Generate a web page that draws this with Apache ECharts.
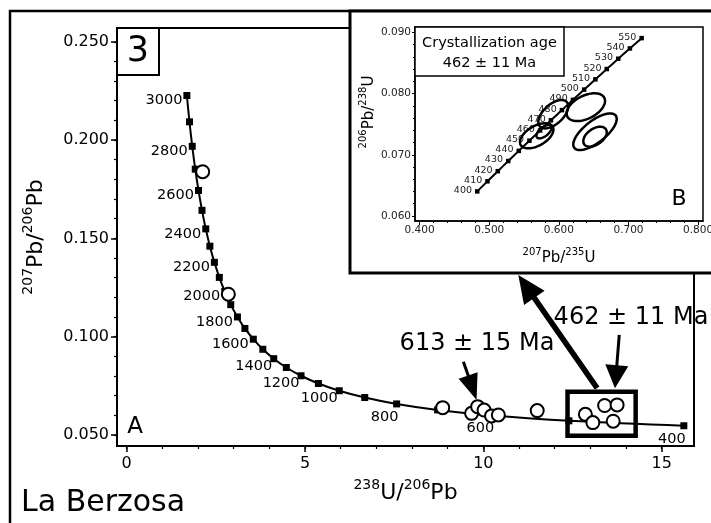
<!DOCTYPE html>
<html>
<head>
<meta charset="utf-8">
<script src="https://cdn.jsdelivr.net/npm/echarts@6/dist/echarts.min.js"></script>
<style>
  html, body { margin: 0; padding: 0; background: #fff; }
  #chart { width: 711px; height: 523px; }
</style>
</head>
<body>
<div id="chart"></div>
<script>
// ---- Tera-Wasserburg concordia (panel A), one marker every 100 Ma ----
const concordiaAges = [400, 500, 600, 700, 800, 900, 1000, 1100, 1200, 1300, 1400, 1500, 1600, 1700,
  1800, 1900, 2000, 2100, 2200, 2300, 2400, 2500, 2600, 2700, 2800, 2900, 3000];
const concordiaU238Pb206 = [15.621, 12.399, 10.252, 8.718, 7.568, 6.674, 5.959, 5.375, 4.888, 4.476,
  4.123, 3.817, 3.550, 3.314, 3.105, 2.917, 2.749, 2.597, 2.459, 2.332, 2.217, 2.111, 2.013, 1.922,
  1.838, 1.760, 1.687];
const concordiaPb207Pb206 = [0.05470, 0.05722, 0.05990, 0.06276, 0.06580, 0.06904, 0.07250, 0.07619,
  0.08012, 0.08432, 0.08881, 0.09360, 0.09872, 0.10419, 0.11004, 0.11629, 0.12299, 0.13015, 0.13782,
  0.14603, 0.15483, 0.16426, 0.17437, 0.18520, 0.19682, 0.20928, 0.22266];
const concordiaLabelled = [400, 600, 800, 1000, 1200, 1400, 1600, 1800, 2000, 2200, 2400, 2600, 2800, 3000];

// ---- Zircon analyses (panel A) ----
const zirconU238Pb206 = [2.13, 2.85, 8.86, 9.67, 9.84, 10.02, 10.23, 10.42, 11.51, 12.86, 13.07, 13.40, 13.75, 13.64];
const zirconPb207Pb206 = [0.1839, 0.1216, 0.0639, 0.0610, 0.0644, 0.0627, 0.0597, 0.0602, 0.0624, 0.0605, 0.0563, 0.0650, 0.0653, 0.0570];

// Youngest group, framed and enlarged in panel B
const groupBoxX = [12.36, 14.27];
const groupBoxY = [0.0496, 0.0720];

// Pointer arrows in panel A: start and tip
const arrowFromX = [13.19, 9.44, 13.81];
const arrowFromY = [0.0738, 0.0873, 0.1009];
const arrowToX = [10.98, 9.81, 13.69];
const arrowToY = [0.1314, 0.0678, 0.0738];

// ---- Wetherill concordia (panel B), one marker every 10 Ma ----
const insetAges = [400, 410, 420, 430, 440, 450, 460, 470, 480, 490, 500, 510, 520, 530, 540, 550];
const insetPb207U235 = [0.4828, 0.4975, 0.5123, 0.5273, 0.5424, 0.5577, 0.5731, 0.5886, 0.6044, 0.6202,
  0.6363, 0.6525, 0.6688, 0.6853, 0.7020, 0.7189];
const insetPb206U238 = [0.06402, 0.06567, 0.06732, 0.06898, 0.07064, 0.07230, 0.07397, 0.07563, 0.07730,
  0.07898, 0.08065, 0.08233, 0.08401, 0.08569, 0.08738, 0.08906];

// Error ellipses: centre, half-widths and error correlation
const ellipseCx = [0.5682, 0.5786, 0.5920, 0.6387, 0.6519, 0.6519];
const ellipseCy = [0.07310, 0.07377, 0.07663, 0.07778, 0.07377, 0.07296];
const ellipseSx = [0.0240, 0.0108, 0.0215, 0.0276, 0.0312, 0.0168];
const ellipseSy = [0.00205, 0.00109, 0.00232, 0.00227, 0.00299, 0.00163];
const ellipseRho = [0.50, 0.60, 0.55, 0.45, 0.70, 0.45];

// ---- Tick values ----
const mainXTicks = [0, 5, 10, 15];
const mainXMinor = [0, 1, 2, 3, 4, 5, 6, 7, 8, 9, 10, 11, 12, 13, 14, 15];
const mainYTicks = [0.05, 0.10, 0.15, 0.20, 0.25];
const mainYMinor = [0.05, 0.06, 0.07, 0.08, 0.09, 0.10, 0.11, 0.12, 0.13, 0.14, 0.15, 0.16, 0.17, 0.18,
  0.19, 0.20, 0.21, 0.22, 0.23, 0.24, 0.25];
const insetXTicks = [0.4, 0.5, 0.6, 0.7, 0.8];
const insetXMinor = [0.40, 0.42, 0.44, 0.46, 0.48, 0.50, 0.52, 0.54, 0.56, 0.58, 0.60, 0.62, 0.64, 0.66,
  0.68, 0.70, 0.72, 0.74, 0.76, 0.78, 0.80];
const insetYTicks = [0.06, 0.07, 0.08, 0.09];
const insetYMinor = [0.060, 0.062, 0.064, 0.066, 0.068, 0.070, 0.072, 0.074, 0.076, 0.078, 0.080, 0.082,
  0.084, 0.086, 0.088, 0.090];

const FONT = 'DejaVu Sans';
const chart = echarts.init(document.getElementById('chart'), null, { renderer: 'canvas' });

function richName(big, small) {
  return {
    base: { fontSize: big, fontFamily: FONT, color: '#000', lineHeight: big + 4, verticalAlign: 'bottom' },
    sup: { fontSize: small, fontFamily: FONT, color: '#000', lineHeight: small, verticalAlign: 'top' }
  };
}

function valueAxis(opt) {
  return Object.assign({
    type: 'value', scale: true,
    splitLine: { show: false },
    axisPointer: { show: false }
  }, opt);
}

const mainSeriesData = concordiaAges.map((age, i) => {
  const item = { name: String(age), value: [concordiaU238Pb206[i], concordiaPb207Pb206[i]] };
  if (concordiaLabelled.includes(age)) {
    if (age <= 800) item.label = { show: true, position: 'bottom', distance: 2, offset: [-12, 0] };
    else if (age <= 1400) item.label = { show: true, position: 'left', distance: 0, offset: [2, 7.5] };
    else item.label = { show: true, position: 'left', distance: 1, offset: [0, 5] };
  } else {
    item.label = { show: false };
  }
  return item;
});

const insetSeriesData = insetAges.map((age, i) => ({
  name: String(age), value: [insetPb207U235[i], insetPb206U238[i]]
}));

const option = {
  animation: false,
  textStyle: { fontFamily: FONT },
  grid: [
    { left: 117, top: 28, width: 577, height: 418, show: true, borderColor: '#000', borderWidth: 2,
      backgroundColor: 'transparent', containLabel: false, outerBoundsMode: 'none' },
    { left: 415, top: 27, width: 288, height: 194, show: true, borderColor: '#000', borderWidth: 1.5,
      backgroundColor: '#fff', z: 4, containLabel: false, outerBoundsMode: 'none' }
  ],
  xAxis: [
    valueAxis({
      gridIndex: 0, min: -0.272, max: 15.906, position: 'bottom',
      axisLine: { show: true, onZero: false, lineStyle: { color: '#000', width: 2 } },
      axisTick: { show: true, customValues: mainXTicks, length: 6, lineStyle: { color: '#000', width: 1.5 } },
      axisLabel: { customValues: mainXTicks, fontSize: 16, color: '#000', margin: 10 },
      name: '{sup|238}{base|U/}{sup|206}{base|Pb}', nameLocation: 'middle', nameGap: 32,
      nameTextStyle: { rich: richName(22, 14) }
    }),
    valueAxis({
      gridIndex: 0, min: -0.272, max: 15.906, position: 'bottom',
      axisLine: { show: false, onZero: false },
      axisTick: { show: true, customValues: mainXMinor, length: 3, lineStyle: { color: '#000', width: 1.2 } },
      axisLabel: { show: false }
    }),
    valueAxis({
      gridIndex: 1, min: 0.3934, max: 0.8070, position: 'bottom', z: 4,
      axisLine: { show: true, onZero: false, lineStyle: { color: '#000', width: 1.5 } },
      axisTick: { show: true, customValues: insetXTicks, length: 4, lineStyle: { color: '#000', width: 1 } },
      axisLabel: { customValues: insetXTicks, fontSize: 10.5, color: '#222', margin: 4,
        formatter: v => v.toFixed(3) },
      name: '{sup|207}{base|Pb/}{sup|235}{base|U}', nameLocation: 'middle', nameGap: 26,
      nameTextStyle: { rich: richName(15, 10) }
    }),
    valueAxis({
      gridIndex: 1, min: 0.3934, max: 0.8070, position: 'bottom', z: 4,
      axisLine: { show: false, onZero: false },
      axisTick: { show: true, customValues: insetXMinor, length: 2, lineStyle: { color: '#000', width: 1 } },
      axisLabel: { show: false }
    })
  ],
  yAxis: [
    valueAxis({
      gridIndex: 0, min: 0.0444, max: 0.2570, position: 'left',
      axisLine: { show: true, onZero: false, lineStyle: { color: '#000', width: 2 } },
      axisTick: { show: true, customValues: mainYTicks, length: 6, lineStyle: { color: '#000', width: 1.5 } },
      axisLabel: { customValues: mainYTicks, fontSize: 16, color: '#000', margin: 8,
        formatter: v => v.toFixed(3) },
      name: '{sup|207}{base|Pb/}{sup|206}{base|Pb}', nameLocation: 'middle', nameGap: 70, nameRotate: 90,
      nameTextStyle: { rich: richName(22, 14) }
    }),
    valueAxis({
      gridIndex: 0, min: 0.0444, max: 0.2570, position: 'left',
      axisLine: { show: false, onZero: false },
      axisTick: { show: true, customValues: mainYMinor, length: 3, lineStyle: { color: '#000', width: 1.2 } },
      axisLabel: { show: false }
    }),
    valueAxis({
      gridIndex: 1, min: 0.05918, max: 0.09088, position: 'left', z: 4,
      axisLine: { show: true, onZero: false, lineStyle: { color: '#000', width: 1.5 } },
      axisTick: { show: true, customValues: insetYTicks, length: 3, lineStyle: { color: '#000', width: 1 } },
      axisLabel: { customValues: insetYTicks, fontSize: 10.5, color: '#222', margin: 4,
        formatter: v => v.toFixed(3) },
      name: '{sup|206}{base|Pb/}{sup|238}{base|U}', nameLocation: 'middle', nameGap: 38, nameRotate: 90,
      nameTextStyle: { rich: richName(15, 10), padding: [0, 0, 0, 24] }
    }),
    valueAxis({
      gridIndex: 1, min: 0.05918, max: 0.09088, position: 'left', z: 4,
      axisLine: { show: false, onZero: false },
      axisTick: { show: true, customValues: insetYMinor, length: 2, lineStyle: { color: '#000', width: 1 } },
      axisLabel: { show: false }
    })
  ],
  series: [
    {
      name: 'concordia', type: 'line', xAxisIndex: 0, yAxisIndex: 0, z: 2,
      data: mainSeriesData, smooth: 0.4,
      symbol: 'rect', symbolSize: 7, showAllSymbol: true,
      lineStyle: { color: '#000', width: 2 },
      itemStyle: { color: '#000' },
      label: { show: true, formatter: '{b}', fontSize: 14.5, color: '#000' }
    },
    {
      name: 'zircon', type: 'scatter', xAxisIndex: 0, yAxisIndex: 0, z: 3,
      data: zirconU238Pb206.map((x, i) => [x, zirconPb207Pb206[i]]),
      symbol: 'circle', symbolSize: 13,
      itemStyle: { color: '#fff', borderColor: '#000', borderWidth: 2, opacity: 1 }
    },
    {
      name: 'concordia B', type: 'line', xAxisIndex: 2, yAxisIndex: 2, z: 5,
      data: insetSeriesData, smooth: 0.3,
      symbol: 'rect', symbolSize: 4.5, showAllSymbol: true,
      lineStyle: { color: '#000', width: 2 },
      itemStyle: { color: '#000' },
      label: { show: true, formatter: '{b}', position: 'left', distance: 3, offset: [0, -1],
        fontSize: 9.5, color: '#222' }
    },
    {
      name: 'ellipses', type: 'custom', xAxisIndex: 2, yAxisIndex: 2, z: 6,
      data: ellipseCx.map((cx, i) => [cx, ellipseCy[i], ellipseSx[i], ellipseSy[i], ellipseRho[i]]),
      encode: { x: 0, y: 1 },
      renderItem: (params, api) => {
        const cx = api.value(0), cy = api.value(1), sx = api.value(2), sy = api.value(3), r = api.value(4);
        const q = Math.sqrt(1 - r * r);
        const pts = [];
        for (let k = 0; k < 90; k++) {
          const t = 2 * Math.PI * k / 90;
          pts.push(api.coord([cx + sx * Math.cos(t), cy + sy * (r * Math.cos(t) + q * Math.sin(t))]));
        }
        return { type: 'polygon', shape: { points: pts },
          style: { fill: 'none', stroke: '#000', lineWidth: 2.5 } };
      }
    }
  ]
};

chart.setOption(option);

// ---- Overlays: frames, panel labels, annotations and arrows ----
function px(x, y) { return chart.convertToPixel({ seriesIndex: 0 }, [x, y]); }

function arrow(p0, p1, shaftWidth, headLen, headWidth) {
  const dx = p1[0] - p0[0], dy = p1[1] - p0[1];
  const len = Math.hypot(dx, dy);
  const ux = dx / len, uy = dy / len, nx = -uy, ny = ux;
  const bx = p1[0] - ux * headLen, by = p1[1] - uy * headLen;
  return [
    { type: 'line', z: 20, shape: { x1: p0[0], y1: p0[1], x2: bx + ux, y2: by + uy },
      style: { stroke: '#000', lineWidth: shaftWidth } },
    { type: 'polygon', z: 20, shape: { points: [p1,
        [bx + nx * headWidth / 2, by + ny * headWidth / 2],
        [bx - nx * headWidth / 2, by - ny * headWidth / 2]] },
      style: { fill: '#000' } }
  ];
}

const b0 = px(groupBoxX[0], groupBoxY[1]);
const b1 = px(groupBoxX[1], groupBoxY[0]);

const arrowStyles = [[5.5, 28, 25], [3, 26, 20], [3, 23, 23]];
let arrows = [];
arrowFromX.forEach((_, i) => {
  const s = arrowStyles[i];
  arrows = arrows.concat(arrow(px(arrowFromX[i], arrowFromY[i]), px(arrowToX[i], arrowToY[i]), s[0], s[1], s[2]));
});

const graphics = [
  // outer figure frame
  { type: 'rect', z: 1, shape: { x: 10, y: 11, width: 720, height: 540 },
    style: { fill: 'none', stroke: '#000', lineWidth: 2.5 } },
  // panel B frame
  { type: 'rect', z: 3, shape: { x: 350, y: 11, width: 380, height: 262 },
    style: { fill: '#fff', stroke: '#000', lineWidth: 3 } },
  // figure number
  { type: 'rect', z: 10, shape: { x: 117, y: 28, width: 42, height: 47 },
    style: { fill: '#fff', stroke: '#000', lineWidth: 2 } },
  { type: 'text', z: 11, style: { text: '3', x: 138, y: 52, align: 'center', verticalAlign: 'middle',
      font: '35px "DejaVu Sans"', fill: '#000' } },
  { type: 'text', z: 11, style: { text: 'A', x: 135, y: 427, align: 'center', verticalAlign: 'middle',
      font: '23px "DejaVu Sans"', fill: '#000' } },
  { type: 'text', z: 11, style: { text: 'La Berzosa', x: 21, y: 503, align: 'left', verticalAlign: 'middle',
      font: '30px "DejaVu Sans"', fill: '#000' } },
  { type: 'text', z: 11, style: { text: '613 \u00b1 15 Ma', x: 477, y: 344, align: 'center', verticalAlign: 'middle',
      font: '24px "DejaVu Sans"', fill: '#000' } },
  { type: 'text', z: 11, style: { text: '462 \u00b1 11 Ma', x: 631, y: 318, align: 'center', verticalAlign: 'middle',
      font: '24px "DejaVu Sans"', fill: '#000' } },
  // panel B captions
  { type: 'rect', z: 10, shape: { x: 415, y: 27, width: 149, height: 49 },
    style: { fill: '#fff', stroke: '#000', lineWidth: 1.5 } },
  { type: 'text', z: 11, style: { text: 'Crystallization age', x: 489.5, y: 43.5, align: 'center', verticalAlign: 'middle',
      font: '14.5px "DejaVu Sans"', fill: '#000' } },
  { type: 'text', z: 11, style: { text: '462 \u00b1 11 Ma', x: 489.5, y: 63.5, align: 'center', verticalAlign: 'middle',
      font: '14.5px "DejaVu Sans"', fill: '#000' } },
  { type: 'text', z: 11, style: { text: 'B', x: 679, y: 199, align: 'center', verticalAlign: 'middle',
      font: '22px "DejaVu Sans"', fill: '#000' } },
  // frame around the youngest group
  { type: 'rect', z: 12, shape: { x: b0[0], y: b0[1], width: b1[0] - b0[0], height: b1[1] - b0[1] },
    style: { fill: 'none', stroke: '#000', lineWidth: 4.5 } }
].concat(arrows);

chart.setOption({ graphic: { elements: graphics } });
</script>
</body>
</html>
